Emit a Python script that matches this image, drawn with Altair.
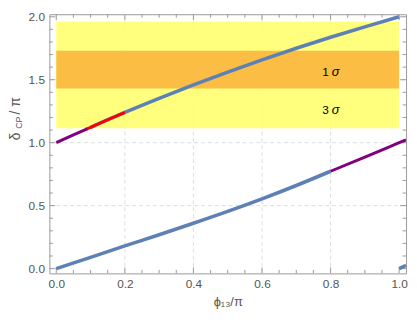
import altair as alt
import pandas as pd

# ---------------- data ----------------
upper_blue_x = [0.1, 0.2, 0.3, 0.4, 0.5, 0.6, 0.7, 0.8, 0.9, 1.0]
upper_blue_y = [1.122, 1.24, 1.352, 1.459, 1.561, 1.658, 1.75, 1.837, 1.92, 2.0]
upper_red_x = [0.086, 0.1, 0.15, 0.2]
upper_red_y = [1.105, 1.122, 1.182, 1.24]
upper_purple_x = [0.0, 0.05, 0.09]
upper_purple_y = [1.0, 1.062, 1.11]
lower_blue_x = [0.0, 0.1, 0.2, 0.3, 0.4, 0.5, 0.6, 0.7, 0.8]
lower_blue_y = [0.0, 0.089, 0.18, 0.269, 0.36, 0.454, 0.554, 0.66, 0.773]
lower_purple_x = [0.8, 0.9, 1.0, 1.02]
lower_purple_y = [0.773, 0.885, 1.0, 1.023]
wrap_blue_x = [1.0, 1.02]
wrap_blue_y = [0.0, 0.025]

band_names = ["3 sigma", "1 sigma"]
band_x0 = [0.0, 0.0]
band_x1 = [1.0, 1.0]
band_y0 = [1.115, 1.43]
band_y1 = [1.96, 1.73]
band_colors = ["#FFFF66", "#FCB13B"]

label_x = [0.8, 0.8]
label_y = [1.56, 1.26]
label_num = ["1", "3"]

x_major = [0.0, 0.2, 0.4, 0.6, 0.8, 1.0]
x_minor = [0.05, 0.1, 0.15, 0.25, 0.3, 0.35, 0.45, 0.5, 0.55, 0.65, 0.7, 0.75, 0.85, 0.9, 0.95]
y_major = [0.0, 0.5, 1.0, 1.5, 2.0]
y_minor = [0.1, 0.2, 0.3, 0.4, 0.6, 0.7, 0.8, 0.9, 1.1, 1.2, 1.3, 1.4, 1.6, 1.7, 1.8, 1.9]
x_grid = [0.2, 0.4, 0.6, 0.8]
y_grid = [0.5, 1.0, 1.5]

# ---------------- tables ----------------
def seg(name, xs, ys):
    return pd.DataFrame({"x": xs, "y": ys, "seg": name})

blue_df = pd.concat([seg("ub", upper_blue_x, upper_blue_y),
                     seg("lb", lower_blue_x, lower_blue_y),
                     seg("wb", wrap_blue_x, wrap_blue_y)])
purple_df = pd.concat([seg("up", upper_purple_x, upper_purple_y),
                       seg("lp", lower_purple_x, lower_purple_y)])
red_df = seg("ur", upper_red_x, upper_red_y)
bands_df = pd.DataFrame({"name": band_names, "x0": band_x0, "x1": band_x1,
                         "y0": band_y0, "y1": band_y1})
labels_df = pd.DataFrame({"x": label_x, "y": label_y, "num": label_num})

W, H = 362, 263
FONT = "Liberation Sans"
GRAY = "#999999"
TXT = "#555555"

xs = alt.Scale(domain=[-0.0201, 1.0201], nice=False, zero=False)
ys = alt.Scale(domain=[-0.038, 2.02], nice=False, zero=False)
xaxis = alt.Axis(values=x_major, format=".1f", ticks=False, domain=False, grid=False,
                 labelFont=FONT, labelFontSize=12, labelColor=TXT, labelPadding=5,
                 title="ϕ₁₃/π", titleFont=FONT, titleFontSize=13, titleFontWeight="normal",
                 titleColor=TXT, titlePadding=7)
yaxis = alt.Axis(values=y_major, format=".1f", ticks=False, domain=False, grid=False,
                 labelFont=FONT, labelFontSize=12, labelColor=TXT, labelPadding=5, title=None)

def X(f="x"):
    return alt.X(f"{f}:Q", scale=xs, axis=xaxis)

def Y(f="y"):
    return alt.Y(f"{f}:Q", scale=ys, axis=yaxis)

bands = alt.Chart(bands_df).mark_rect(opacity=0.85).encode(
    x=X("x0"), x2="x1:Q", y=Y("y0"), y2="y1:Q",
    color=alt.Color("name:N", scale=alt.Scale(domain=band_names, range=band_colors), legend=None),
)

gx = alt.Chart(pd.DataFrame({"x": x_grid})).mark_rule(color="#dddddd", strokeDash=[4, 3], strokeWidth=1).encode(
    x=X(), y=alt.value(0), y2=alt.value(H))
gy = alt.Chart(pd.DataFrame({"y": y_grid})).mark_rule(color="#dddddd", strokeDash=[4, 3], strokeWidth=1).encode(
    y=Y(), x=alt.value(0), x2=alt.value(W))

def xticks(vals, L):
    d = pd.DataFrame({"x": vals})
    b = alt.Chart(d).mark_rule(color=GRAY, strokeWidth=1).encode(x=X(), y=alt.value(H), y2=alt.value(H - L))
    t = alt.Chart(d).mark_rule(color=GRAY, strokeWidth=1).encode(x=X(), y=alt.value(0), y2=alt.value(L))
    return [b, t]

def yticks(vals, L):
    d = pd.DataFrame({"y": vals})
    l = alt.Chart(d).mark_rule(color=GRAY, strokeWidth=1).encode(y=Y(), x=alt.value(0), x2=alt.value(L))
    r = alt.Chart(d).mark_rule(color=GRAY, strokeWidth=1).encode(y=Y(), x=alt.value(W), x2=alt.value(W - L))
    return [l, r]

ticks = xticks(x_major, 6) + xticks(x_minor, 3.5) + yticks(y_major, 6) + yticks(y_minor, 3.5)

blue = alt.Chart(blue_df).mark_line(color="#5E81B5", strokeWidth=3.6, clip=True, interpolate="monotone").encode(
    x=X(), y=Y(), detail="seg:N")
purple = alt.Chart(purple_df).mark_line(color="#800080", strokeWidth=3, clip=True, interpolate="monotone").encode(
    x=X(), y=Y(), detail="seg:N")
red = alt.Chart(red_df).mark_line(color="#FF0000", strokeWidth=3, clip=True, interpolate="monotone").encode(
    x=X(), y=Y())

num = alt.Chart(labels_df).mark_text(font=FONT, fontSize=12, color="black", dx=-5).encode(
    x=X(), y=Y(), text="num:N")
sig = alt.Chart(labels_df).mark_text(font=FONT, fontSize=13, fontStyle="italic", color="black", dx=5).encode(
    x=X(), y=Y(), text=alt.value("σ"))

yt1 = alt.Chart(labels_df.head(1)).mark_text(font=FONT, fontSize=14, color=TXT, angle=270).encode(
    x=alt.value(-34), y=alt.value(124), text=alt.value("δ"))
yt2 = alt.Chart(labels_df.head(1)).mark_text(font=FONT, fontSize=9, color=TXT, angle=270).encode(
    x=alt.value(-31), y=alt.value(110), text=alt.value("CP"))
yt3 = alt.Chart(labels_df.head(1)).mark_text(font=FONT, fontSize=14, color=TXT, angle=270).encode(
    x=alt.value(-34), y=alt.value(93), text=alt.value("/ π"))

chart = alt.layer(gx, gy, bands, *ticks, blue, red, purple, num, sig, yt1, yt2, yt3).properties(
    width=W, height=H,
    autosize=alt.AutoSizeParams(type="none"),
    padding={"left": 42, "top": 4, "right": 3, "bottom": 46},
).configure_view(stroke=GRAY, strokeWidth=1)

chart.save("out.html", embed_options={"renderer": "svg", "actions": False})
